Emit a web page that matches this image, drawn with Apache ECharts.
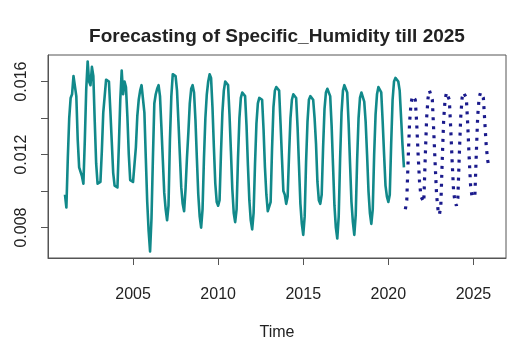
<!DOCTYPE html>
<html>
<head>
<meta charset="utf-8">
<script src="https://cdn.jsdelivr.net/npm/echarts@6/dist/echarts.min.js"></script>
<style>html,body{margin:0;padding:0;background:#fff;}#chart{width:507px;height:346px;}</style>
</head>
<body>
<div id="chart"></div>
<script>
// Monthly series, observed Jan 2001 - Dec 2020
var observedStart = 2001;
var observed = [
  0.0098,0.0091,0.0118,0.0140,0.0151,0.0153,0.0163,0.0164,0.0152,0.0128,0.0113,0.0114, // 2001
  0.0108,0.0104,0.0128,0.0156,0.0171,0.0160,0.0158,0.0168,0.0163,0.0138,0.0115,0.0104, // 2002
  0.0103,0.0105,0.0122,0.0143,0.0152,0.0161,0.0162,0.0160,0.0144,0.0127,0.0110,0.0103, // 2003
  0.0103,0.0102,0.0125,0.0150,0.0166,0.0153,0.0160,0.0157,0.0141,0.0120,0.0106,0.0105, // 2004
  0.0105,0.0106,0.0124,0.0141,0.0150,0.0155,0.0158,0.0157,0.0143,0.0118,0.0094,0.0078, // 2005
  0.0067,0.0085,0.0118,0.0148,0.0153,0.0156,0.0158,0.0152,0.0135,0.0117,0.0099,0.0090, // 2006
  0.0084,0.0092,0.0128,0.0152,0.0164,0.0163,0.0163,0.0155,0.0138,0.0120,0.0102,0.0093, // 2007
  0.0089,0.0101,0.0118,0.0132,0.0148,0.0156,0.0158,0.0154,0.0139,0.0118,0.0098,0.0086, // 2008
  0.0080,0.0090,0.0118,0.0140,0.0153,0.0160,0.0164,0.0162,0.0146,0.0124,0.0104,0.0094, // 2009
  0.0092,0.0095,0.0121,0.0143,0.0155,0.0160,0.0160,0.0158,0.0142,0.0122,0.0101,0.0088, // 2010
  0.0083,0.0090,0.0118,0.0140,0.0151,0.0154,0.0155,0.0152,0.0136,0.0114,0.0095,0.0084, // 2011
  0.0079,0.0088,0.0115,0.0137,0.0148,0.0151,0.0152,0.0150,0.0134,0.0113,0.0098,0.0089, // 2012
  0.0088,0.0094,0.0123,0.0146,0.0155,0.0157,0.0158,0.0155,0.0137,0.0118,0.0100,0.0098, // 2013
  0.0093,0.0097,0.0120,0.0140,0.0150,0.0153,0.0154,0.0151,0.0135,0.0114,0.0093,0.0082, // 2014
  0.0076,0.0086,0.0116,0.0138,0.0150,0.0152,0.0153,0.0150,0.0140,0.0126,0.0105,0.0095, // 2015
  0.0093,0.0098,0.0124,0.0145,0.0154,0.0156,0.0156,0.0152,0.0136,0.0114,0.0092,0.0080, // 2016
  0.0074,0.0086,0.0118,0.0143,0.0155,0.0158,0.0158,0.0154,0.0137,0.0115,0.0094,0.0083, // 2017
  0.0076,0.0087,0.0117,0.0140,0.0151,0.0154,0.0154,0.0149,0.0138,0.0120,0.0100,0.0088, // 2018
  0.0082,0.0090,0.0120,0.0142,0.0153,0.0157,0.0158,0.0154,0.0138,0.0120,0.0103,0.0097, // 2019
  0.0094,0.0098,0.0126,0.0150,0.0160,0.0162,0.0163,0.0160,0.0155,0.0140,0.0125,0.0113  // 2020
];
// Forecast Jan 2021 - Dec 2025
var forecastStart = 2021;
var forecast = [
  0.0090,0.0095,0.0118,0.0138,0.0148,0.0152,0.0152,0.0150,0.0137,0.0120,0.0105,0.0097, // 2021
  0.0096,0.0094,0.0118,0.0140,0.0151,0.0155,0.0155,0.0150,0.0133,0.0115,0.0098,0.0090, // 2022
  0.0087,0.0092,0.0117,0.0139,0.0150,0.0154,0.0154,0.0150,0.0134,0.0116,0.0100,0.0094, // 2023
  0.0092,0.0096,0.0119,0.0140,0.0151,0.0154,0.0154,0.0151,0.0136,0.0118,0.0103,0.0097, // 2024
  0.0096,0.0097,0.0120,0.0141,0.0151,0.0154,0.0154,0.0151,0.0138,0.0125,0.0117,0.0113  // 2025
];
var xTicks = [2005, 2010, 2015, 2020, 2025];
var yTicks = [0.008, 0.010, 0.012, 0.014, 0.016];
var yLabels = [0.008, 0.012, 0.016];
var titleText = 'Forecasting of Specific_Humidity till 2025';
var xName = 'Time';

function toPairs(start, arr) {
  return arr.map(function (v, i) { return [start + i / 12, v]; });
}

var FONT = '"Liberation Sans", Arial, sans-serif';
var TXT = '#222';
var BOX = '#555';

var chart = echarts.init(document.getElementById('chart'), null, {renderer: 'canvas'});
chart.setOption({
  animation: false,
  backgroundColor: '#ffffff',
  grid: {left: 48, right: 1, top: 55, bottom: 82, show: true, borderColor: BOX, borderWidth: 1, containLabel: false},
  graphic: [{
    type: 'text', x: 277, y: 37,
    style: {text: titleText, font: 'bold 19px ' + FONT, fill: TXT, textAlign: 'center', textVerticalAlign: 'middle'}
  }],
  xAxis: {
    type: 'value', min: 2000.003, max: 2026.913,
    name: xName, nameLocation: 'middle', nameGap: 67,
    nameTextStyle: {fontFamily: FONT, fontSize: 16, color: TXT},
    splitLine: {show: false},
    axisLine: {show: true, onZero: false, lineStyle: {color: BOX, width: 1}},
    axisTick: {show: true, length: 7, inside: false, customValues: xTicks, lineStyle: {color: BOX}},
    axisLabel: {show: true, customValues: xTicks, margin: 29, fontFamily: FONT, fontSize: 16, color: TXT,
      formatter: function (v) { return String(Math.round(v)); }}
  },
  yAxis: {
    type: 'value', min: 0.006335, max: 0.017452,
    splitLine: {show: false},
    axisLine: {show: true, onZero: false, lineStyle: {color: BOX, width: 1}},
    axisTick: {show: true, length: 7, inside: false, customValues: yTicks, lineStyle: {color: BOX}},
    axisLabel: {show: true, customValues: yLabels, rotate: 90, margin: 18, fontFamily: FONT, fontSize: 16, color: TXT,
      formatter: function (v) { return v.toFixed(3); }}
  },
  series: [{
    type: 'line', data: toPairs(observedStart, observed), showSymbol: false, symbol: 'none',
    lineStyle: {color: '#11898a', width: 2.6, join: 'round'}, clip: true
  }, {
    type: 'line', data: toPairs(forecastStart, forecast), showSymbol: false, symbol: 'none',
    lineStyle: {color: '#1a1a8c', width: 3.2, type: [3, 6], cap: 'butt'}, clip: true
  }]
});
</script>
</body>
</html>
